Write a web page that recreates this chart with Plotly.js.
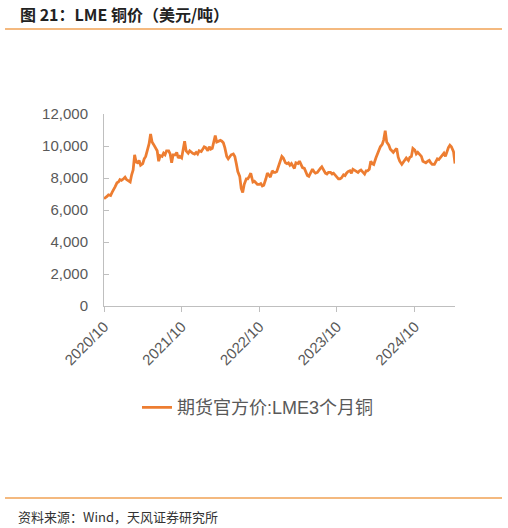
<!DOCTYPE html>
<html>
<head>
<meta charset="utf-8">
<script src="https://cdn.plot.ly/plotly-3.0.1.min.js"></script>
<style>
  html, body { margin: 0; padding: 0; background: #fff; }
  #plotDiv { width: 508px; height: 528px; }
</style>
</head>
<body>
<div id="plotDiv"></div>
<script>
'use strict';

// months, with four weekly readings each (USD/t)
const months = [
  '2020-10','2020-11','2020-12',
  '2021-01','2021-02','2021-03','2021-04','2021-05','2021-06','2021-07','2021-08','2021-09','2021-10','2021-11','2021-12',
  '2022-01','2022-02','2022-03','2022-04','2022-05','2022-06','2022-07','2022-08','2022-09','2022-10','2022-11','2022-12',
  '2023-01','2023-02','2023-03','2023-04','2023-05','2023-06','2023-07','2023-08','2023-09','2023-10','2023-11','2023-12',
  '2024-01','2024-02','2024-03','2024-04','2024-05','2024-06','2024-07','2024-08','2024-09','2024-10','2024-11','2024-12',
  '2025-01','2025-02','2025-03','2025-04'
];
const weekDays = ['01', '08', '15', '22'];
const prices = [
  [6700, 6750, 6850, 6950], [6900, 7100, 7250, 7450], [7700, 7750, 7900, 7850],
  [7950, 8050, 7900, 7850], [7750, 8200, 8500, 9450], [9000, 8950, 9100, 8800],
  [8900, 9200, 9350, 9700], [10150, 10750, 10250, 10100], [9900, 9700, 9050, 9400],
  [9350, 9550, 9450, 9700], [9700, 9500, 8950, 9450], [9450, 9600, 9250, 9350],
  [9250, 9800, 10300, 9700], [9550, 9700, 9600, 9550], [9500, 9600, 9500, 9700],
  [9650, 9850, 9950, 9900], [9700, 9950, 9800, 9850], [10200, 10650, 10250, 10300],
  [10350, 10300, 10200, 9900], [9350, 9200, 9350, 9450], [9500, 9350, 8900, 8400],
  [8100, 7350, 7100, 7600], [7950, 7950, 8100, 8300], [7750, 7800, 7700, 7600],
  [7600, 7650, 7500, 7550], [7950, 8300, 8200, 8050], [8450, 8350, 8350, 8400],
  [8800, 9150, 9350, 9250], [8950, 8900, 8950, 8800], [8900, 8750, 8600, 8950],
  [8900, 9050, 8850, 8650], [8600, 8350, 8150, 8100], [8350, 8550, 8400, 8300],
  [8350, 8500, 8600, 8700], [8450, 8300, 8250, 8350], [8350, 8250, 8300, 8200],
  [8100, 7950, 7950, 8000], [8200, 8150, 8300, 8400], [8450, 8300, 8550, 8500],
  [8450, 8350, 8450, 8500], [8350, 8250, 8450, 8450], [8550, 9050, 8900, 8850],
  [9250, 9500, 9800, 9950], [10100, 10400, 10950, 10250], [10050, 9800, 9700, 9600],
  [9750, 9850, 9300, 9050], [8850, 9000, 9100, 9250], [9100, 9300, 9350, 9850],
  [9750, 9500, 9600, 9500], [9350, 9050, 9000, 8950], [9050, 9100, 8950, 8850],
  [8850, 9050, 9200, 9150], [9300, 9450, 9550, 9350], [9700, 9900, 10050, 9950],
  [9650, 8900]
];
const tickDates = ['2020-10-01', '2021-10-01', '2022-10-01', '2023-10-01', '2024-10-01'];
const tickLabels = ['2020/10', '2021/10', '2022/10', '2023/10', '2024/10'];
const yTicks = [0, 2000, 4000, 6000, 8000, 10000, 12000];
const seriesName = '期货官方价:LME3个月铜';

let dates = [];
let values = [];
for (let m = 0; m < months.length; m++) {
    for (let w = 0; w < prices[m].length; w++) {
        dates.push(months[m] + '-' + weekDays[w]);
        values.push(prices[m][w]);
    }
}

const cjk = 'Liberation Sans, Arial, Noto Sans CJK SC, sans-serif';
const gray = '#595959';
const rule = '#F0A255';

var data = [{
    x: dates,
    y: values,
    type: 'scatter',
    mode: 'lines',
    name: seriesName,
    line: {color: '#ED7D31', width: 2.75}
}];

var layout = {
    width: 508,
    height: 528,
    paper_bgcolor: '#fff',
    plot_bgcolor: '#fff',
    font: {family: cjk, size: 15, color: gray},
    showlegend: true,
    margin: {l: 104, r: 53, t: 114, b: 222, pad: 0},
    xaxis: {
        type: 'date',
        range: ['2020-10-01', '2025-04-08'],
        tickvals: tickDates,
        ticktext: tickLabels,
        tickangle: -45,
        ticks: 'outside',
        ticklen: 5,
        tickcolor: '#BFBFBF',
        showline: true,
        linecolor: '#BFBFBF',
        linewidth: 1,
        showgrid: false,
        zeroline: false,
        tickfont: {size: 15, color: gray}
    },
    yaxis: {
        range: [0, 12000],
        tickvals: yTicks,
        tickformat: ',d',
        ticks: 'inside',
        ticklen: 5,
        tickcolor: '#BFBFBF',
        showline: true,
        linecolor: '#BFBFBF',
        linewidth: 1,
        showgrid: false,
        zeroline: false,
        ticklabelstandoff: 12,
        tickfont: {size: 15, color: gray}
    },
    legend: {
        orientation: 'h',
        x: 0.094,
        xanchor: 'left',
        y: -0.53,
        yanchor: 'middle',
        font: {size: 18, color: gray, family: cjk}
    },
    annotations: [
        {
            text: '<b>图 21：LME 铜价（美元/吨）</b>',
            xref: 'paper', yref: 'paper',
            x: -0.245, y: 1.521,
            xanchor: 'left', yanchor: 'middle',
            showarrow: false,
            font: {size: 16, color: '#222', family: 'Noto Sans CJK SC, sans-serif'}
        },
        {
            text: '资料来源：Wind，天风证券研究所',
            xref: 'paper', yref: 'paper',
            x: -0.251, y: -1.094,
            xanchor: 'left', yanchor: 'middle',
            showarrow: false,
            font: {size: 13, color: '#333', family: 'Noto Sans CJK SC, sans-serif'}
        }
    ],
    shapes: [
        {type: 'line', xref: 'paper', yref: 'paper', x0: -0.282, x1: 1.134, y0: 1.443, y1: 1.443,
         line: {color: rule, width: 1.5}},
        {type: 'line', xref: 'paper', yref: 'paper', x0: -0.282, x1: 1.134, y0: -1.0, y1: -1.0,
         line: {color: rule, width: 1.5}}
    ]
};

Plotly.newPlot('plotDiv', data, layout, {displayModeBar: false, staticPlot: true});
</script>
</body>
</html>
